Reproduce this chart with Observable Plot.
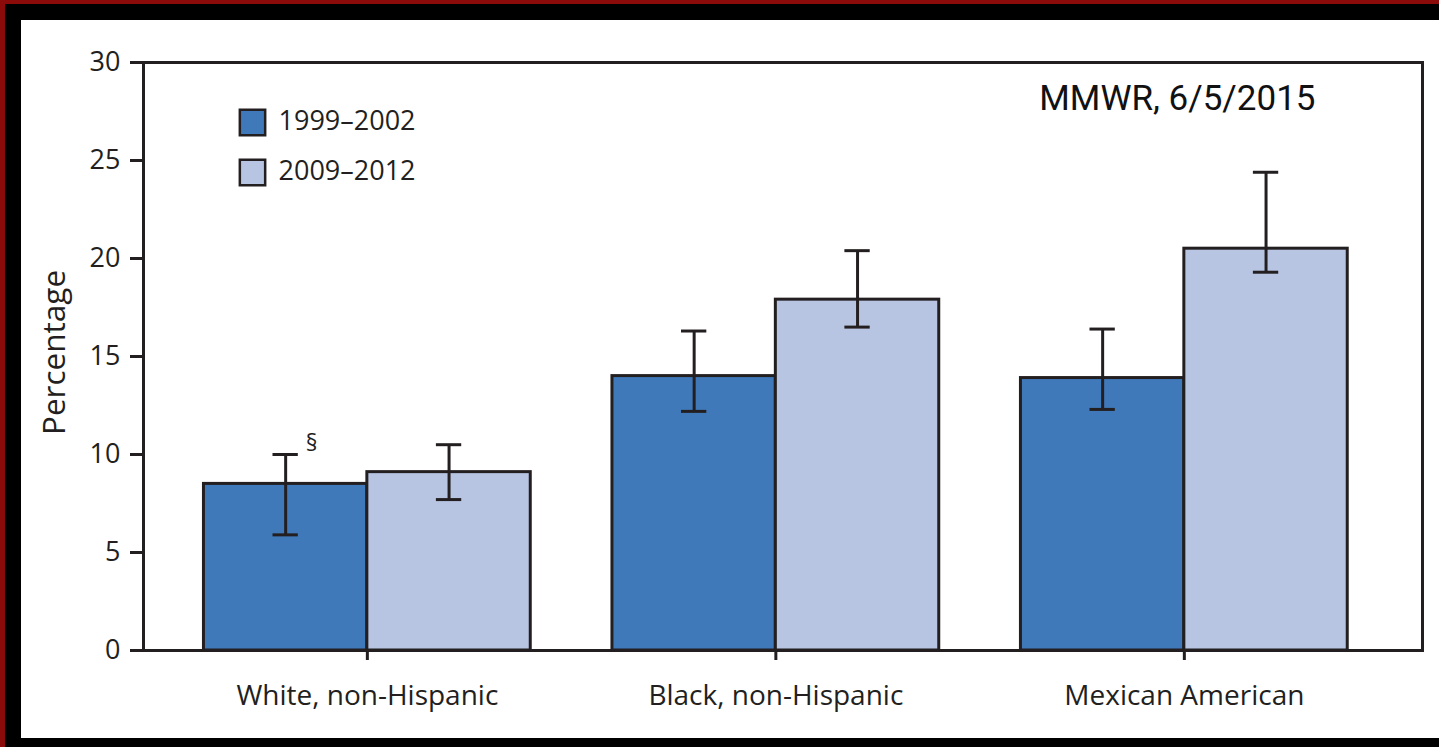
<!DOCTYPE html>
<html>
<head>
<meta charset="utf-8">
<script src="https://cdn.jsdelivr.net/npm/d3@7"></script>
<script src="https://cdn.jsdelivr.net/npm/@observablehq/plot@0.6"></script>
<style>
  html, body { margin: 0; padding: 0; background: #000; overflow: hidden; width: 1439px; height: 747px; }
  #outer {
    position: absolute; left: 0; top: 0; width: 1439px; height: 747px;
    background: #000; overflow: hidden;
  }
  #redtop { position: absolute; left: 0; top: 0; width: 1439px; height: 4px; background: #8b0a0a; }
  #redleft { position: absolute; left: 0; top: 0; width: 5px; height: 747px; background: #8b0a0a; }
  #panel {
    position: absolute; left: 21px; top: 20px; width: 1418px; height: 718px; background: #fff;
  }
  #panel svg { display: block; max-width: none !important; }
</style>
</head>
<body>
<div id="outer"><div id="redtop"></div><div id="redleft"></div><div id="panel"></div></div>
<script>
// ---- data ----
const categories = ["White, non-Hispanic", "Black, non-Hispanic", "Mexican American"];
const periods = ["1999–2002", "2009–2012"];
const value1999 = [8.5, 14.0, 13.9];
const value2009 = [9.1, 17.9, 20.5];
const lower1999 = [5.9, 12.2, 12.3];
const upper1999 = [10.0, 16.3, 16.4];
const lower2009 = [7.7, 16.5, 19.3];
const upper2009 = [10.5, 20.4, 24.4];
const notes1999 = ["§", "", ""];
const yTicks = [0, 5, 10, 15, 20, 25, 30];
const source = "MMWR, 6/5/2015";
const axisTitle = "Percentage";

// ---- build table ----
const barW = 0.4;      // bar width in group units
const capHalf = 0.031; // error-bar cap half width in group units
const rows = [];
categories.forEach((c, i) => {
  rows.push({category: c, period: periods[0], i, x1: i - barW, x2: i, xc: i - barW / 2,
             value: value1999[i], lo: lower1999[i], hi: upper1999[i], note: notes1999[i]});
  rows.push({category: c, period: periods[1], i, x1: i, x2: i + barW, xc: i + barW / 2,
             value: value2009[i], lo: lower2009[i], hi: upper2009[i], note: ""});
});

const ink = "#231f20";
const colors = ["#3f79b9", "#b8c5e2"];

const chart = Plot.plot({
  width: 1418,
  height: 718,
  marginLeft: 122,
  marginTop: 42,
  marginRight: 17,
  marginBottom: 88,
  style: {fontFamily: "'Open Sans', sans-serif", fontSize: "26px", color: ink, background: "#fff"},
  x: {domain: [-0.548, 2.583], axis: null},
  y: {domain: [0, 30], axis: null},
  color: {domain: periods, range: colors},
  marks: [
    Plot.rectY(rows, {x1: "x1", x2: "x2", y1: 0, y2: "value", fill: "period", stroke: ink, strokeWidth: 3}),
    Plot.ruleX(rows, {x: "xc", y1: "lo", y2: "hi", stroke: ink, strokeWidth: 3}),
    Plot.ruleY(rows, {y: "lo", x1: d => d.xc - capHalf, x2: d => d.xc + capHalf, stroke: ink, strokeWidth: 3}),
    Plot.ruleY(rows, {y: "hi", x1: d => d.xc - capHalf, x2: d => d.xc + capHalf, stroke: ink, strokeWidth: 3}),
    Plot.text(rows.filter(d => d.note), {x: "xc", y: "hi", text: "note", dx: 26, dy: -11, fontSize: 23, fill: ink}),
    Plot.frame({stroke: ink, strokeWidth: 3}),
    Plot.axisY({ticks: yTicks, tickSize: 13, tickPadding: 10, fontSize: 27, strokeWidth: 3, stroke: ink, label: null}),
    Plot.axisX({ticks: [0, 1, 2], tickFormat: i => categories[i], tickSize: 10, tickPadding: 25,
                fontSize: 28, strokeWidth: 3, stroke: ink, label: null}),
    Plot.text([axisTitle], {text: d => d, frameAnchor: "left", textAnchor: "middle", lineAnchor: "middle",
                            rotate: -90, dx: -89, dy: -4, fontSize: 31.5, fill: ink}),
    // legend
    Plot.dot([periods[0]], {frameAnchor: "top-left", dx: 109, dy: 60, symbol: "square", r: 14.3,
                            fill: d => d, stroke: ink, strokeWidth: 2.5}),
    Plot.dot([periods[1]], {frameAnchor: "top-left", dx: 109, dy: 110, symbol: "square", r: 14.3,
                            fill: d => d, stroke: ink, strokeWidth: 2.5}),
    Plot.text([periods[0]], {text: d => d, frameAnchor: "top-left", dx: 135, dy: 59, textAnchor: "start",
                             lineAnchor: "middle", fontSize: 27, fill: ink}),
    Plot.text([periods[1]], {text: d => d, frameAnchor: "top-left", dx: 135, dy: 109, textAnchor: "start",
                             lineAnchor: "middle", fontSize: 27, fill: ink}),
    // source note
    Plot.text([source], {text: d => d, frameAnchor: "top-right", dx: -107, dy: 36, textAnchor: "end",
                         lineAnchor: "middle", fontFamily: "Roboto, sans-serif", fontSize: 35, fill: "#111"})
  ]
});
document.getElementById("panel").appendChild(chart);
</script>
</body>
</html>
